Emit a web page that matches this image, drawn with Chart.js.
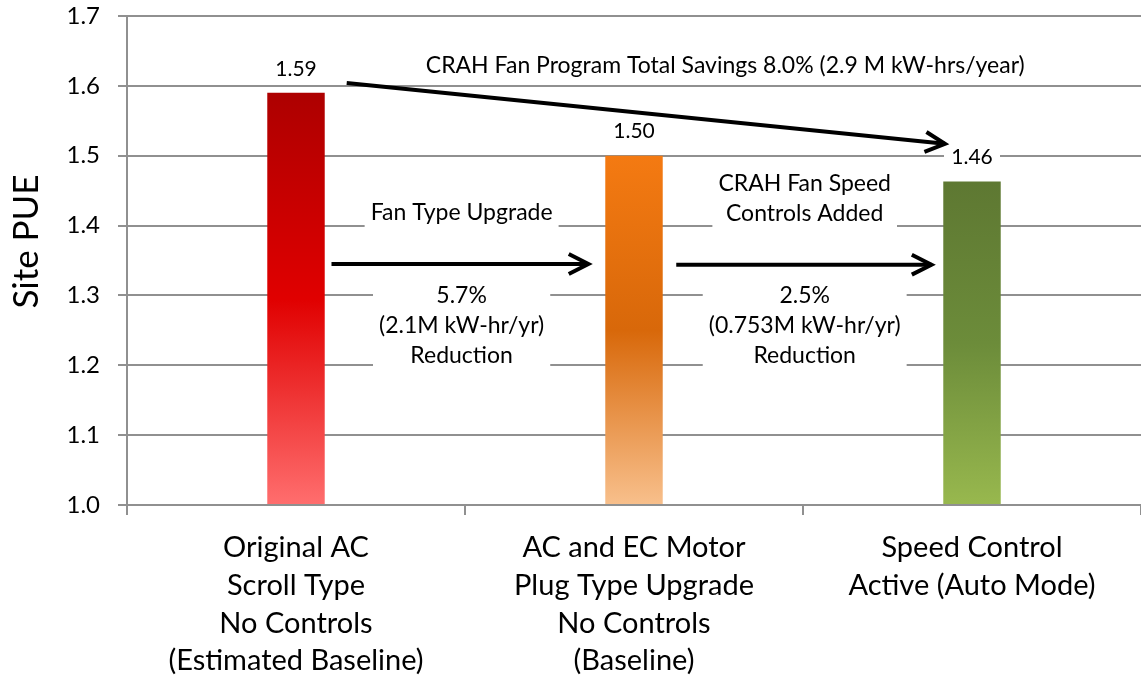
<!DOCTYPE html>
<html>
<head>
<meta charset="utf-8">
<script src="https://cdn.jsdelivr.net/npm/chart.js@4/dist/chart.umd.min.js"></script>
<style>
  html, body { margin: 0; padding: 0; background: #fff; }
</style>
</head>
<body>
<canvas id="pueChart" width="1141" height="683"></canvas>
<script>
// chart data
const categories = [
  ["Original AC", "Scroll Type", "No Controls", "(Estimated Baseline)"],
  ["AC and EC Motor", "Plug Type Upgrade", "No Controls", "(Baseline)"],
  ["Speed Control", "Active (Auto Mode)"]
];
const pueValues = [1.59, 1.50, 1.463];
const valueLabels = ["1.59", "1.50", "1.46"];
const yTicks = [1.0, 1.1, 1.2, 1.3, 1.4, 1.5, 1.6, 1.7];
const yTitle = "Site PUE";

const totalNote = ["CRAH Fan Program Total Savings 8.0% (2.9 M kW-hrs/year)"];
const step1Title = ["Fan Type Upgrade"];
const step1Result = ["5.7%", "(2.1M kW-hr/yr)", "Reduction"];
const step2Title = ["CRAH Fan Speed", "Controls Added"];
const step2Result = ["2.5%", "(0.753M kW-hr/yr)", "Reduction"];

// bar gradients: top, middle, bottom
const barStops = [
  ["#ad0000", "#e00000", "#ff6e6e"],
  ["#f47a12", "#d8680a", "#f8c08c"],
  ["#5e7832", "#6c8c3a", "#98b84e"]
];

const FONT = "Lato, 'Open Sans', sans-serif";

// annotation placement in chart units (x = category index, y = PUE)
const notes = [
  { lines: totalNote, x: 1.27, y: 1.629, padL: 70, padR: 45 },
  { lines: step1Title, x: 0.49, y: 1.418 },
  { lines: step1Result, x: 0.49, y: 1.2575 },
  { lines: step2Title, x: 1.505, y: 1.439 },
  { lines: step2Result, x: 1.505, y: 1.2575 }
];
const arrows = [
  { x1: 0.15, y1: 1.604, x2: 1.92, y2: 1.517 },
  { x1: 0.105, y1: 1.345, x2: 0.865, y2: 1.345 },
  { x1: 1.125, y1: 1.344, x2: 1.88, y2: 1.344 }
];

function drawArrow(c, x1, y1, x2, y2) {
  c.save();
  c.strokeStyle = "#000";
  c.lineWidth = 4;
  c.beginPath();
  c.moveTo(x1, y1);
  c.lineTo(x2, y2);
  c.stroke();
  const a = Math.atan2(y2 - y1, x2 - x1), L = 22, w = 0.47;
  c.lineJoin = "miter";
  c.beginPath();
  c.moveTo(x2 - L * Math.cos(a - w), y2 - L * Math.sin(a - w));
  c.lineTo(x2, y2);
  c.lineTo(x2 - L * Math.cos(a + w), y2 - L * Math.sin(a + w));
  c.stroke();
  c.restore();
}

const annotationPlugin = {
  id: "annotations",
  afterDatasetsDraw(chart) {
    const c = chart.ctx;
    const xs = chart.scales.x, ys = chart.scales.y;
    const area = chart.chartArea;
    c.save();
    c.textAlign = "center";
    c.textBaseline = "middle";

    // y axis title, sitting a bit above the axis middle like the original
    c.save();
    c.translate(27, (area.top + area.bottom) / 2 - 19);
    c.rotate(-Math.PI / 2);
    c.font = "35px " + FONT;
    c.fillStyle = "#000";
    c.fillText(yTitle, 0, 0);
    c.restore();

    // value labels above bars
    c.font = "21px " + FONT;
    pueValues.forEach((v, i) => {
      const px = xs.getPixelForValue(i);
      const py = ys.getPixelForValue(v) - 24;
      c.fillStyle = "#fff";
      c.fillRect(px - 28, py - 15, 56, 30);
      c.fillStyle = "#000";
      c.fillText(valueLabels[i], px, py);
    });

    // text boxes
    c.font = "23px " + FONT;
    const lh = 30;
    notes.forEach(n => {
      const px = xs.getPixelForValue(n.x);
      const py = ys.getPixelForValue(n.y);
      const wMax = Math.max(...n.lines.map(t => c.measureText(t).width));
      const h = n.lines.length * lh;
      c.fillStyle = "#fff";
      c.fillRect(px - wMax / 2 - (n.padL || 6), py - h / 2 - 4,
                 wMax + (n.padL || 6) + (n.padR || 6), h + 8);
      c.fillStyle = "#000";
      n.lines.forEach((t, k) => {
        c.fillText(t, px, py - h / 2 + lh / 2 + k * lh);
      });
    });
    c.restore();

    arrows.forEach(a => {
      drawArrow(c, xs.getPixelForValue(a.x1), ys.getPixelForValue(a.y1),
                xs.getPixelForValue(a.x2), ys.getPixelForValue(a.y2));
    });
  }
};

new Chart(document.getElementById("pueChart").getContext("2d"), {
  type: "bar",
  data: {
    labels: categories,
    datasets: [{
      data: pueValues,
      base: 1.0,
      backgroundColor: ctx => {
        const chart = ctx.chart;
        if (!chart.chartArea) return "#ccc";
        const ys = chart.scales.y;
        const top = ys.getPixelForValue(pueValues[ctx.dataIndex]);
        const bottom = ys.getPixelForValue(1.0);
        const g = chart.ctx.createLinearGradient(0, top, 0, bottom);
        const s = barStops[ctx.dataIndex];
        g.addColorStop(0, s[0]);
        g.addColorStop(0.5, s[1]);
        g.addColorStop(1, s[2]);
        return g;
      },
      borderWidth: 0,
      barPercentage: 0.17,
      categoryPercentage: 1.0
    }]
  },
  options: {
    responsive: false,
    animation: false,
    layout: { padding: { top: 16, right: 0, left: 0, bottom: 0 } },
    plugins: { legend: { display: false }, tooltip: { enabled: false } },
    scales: {
      x: {
        offset: true,
        grid: {
          offset: true,
          drawOnChartArea: false,
          drawTicks: true,
          tickLength: 10,
          color: "#909090",
          lineWidth: 2
        },
        border: { display: true, color: "#909090", width: 2 },
        ticks: {
          color: "#000",
          padding: 14,
          maxRotation: 0,
          autoSkip: false,
          font: { family: FONT, size: 29, lineHeight: 1.3 }
        },
        afterFit: s => {
          s.height = 178;
          s.paddingLeft = 0;
          s.paddingRight = 0;
        }
      },
      y: {
        min: 1.0,
        max: 1.7,
        afterBuildTicks: s => { s.ticks = yTicks.map(v => ({ value: v })); },
        grid: { color: "#909090", lineWidth: 2, tickLength: 9, drawTicks: true },
        border: { display: true, color: "#909090", width: 2 },
        ticks: {
          color: "#000",
          padding: 18,
          font: { family: FONT, size: 24 },
          callback: v => Number(v).toFixed(1)
        },
        title: { display: false },
        afterFit: s => {
          s.width = 127;
          s.paddingTop = 0;
          s.paddingBottom = 0;
        }
      }
    }
  },
  plugins: [annotationPlugin]
});
</script>
</body>
</html>
